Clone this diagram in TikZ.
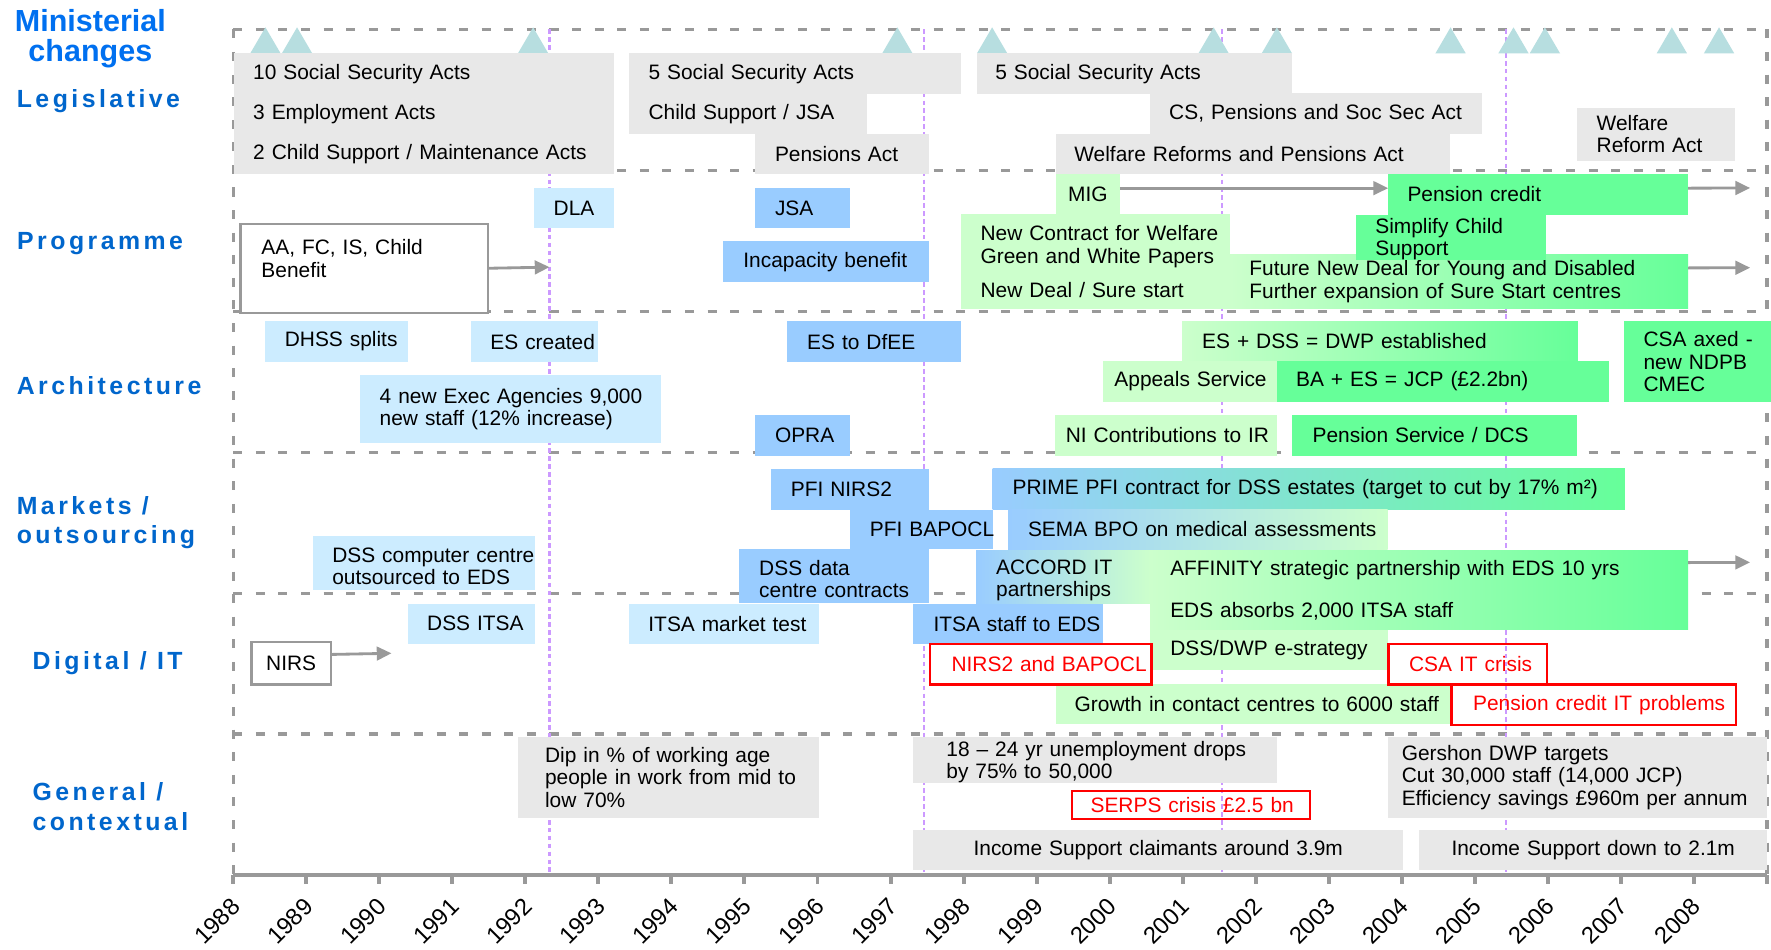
\documentclass[tikz,border=0pt]{standalone}
\usepackage{fontspec}
\setmainfont{Liberation Sans}
\newfontfamily\lanefont{Liberation Sans}[LetterSpace=14]
\usetikzlibrary{arrows.meta}

\definecolor{boxgrey}{RGB}{232,232,232}
\definecolor{lblue}{RGB}{204,236,255}
\definecolor{mblue}{RGB}{153,204,255}
\definecolor{lgreen}{RGB}{204,255,204}
\definecolor{bgreen}{RGB}{102,255,153}
\definecolor{linegray}{RGB}{153,153,153}
\definecolor{elecpurple}{RGB}{204,153,255}
\definecolor{minteal}{RGB}{183,222,224}
\definecolor{laneblue}{RGB}{0,102,204}
\definecolor{titleblue}{RGB}{0,112,240}
\definecolor{alertred}{RGB}{255,0,0}

\tikzset{
    box/.style={anchor=north west, inner sep=0pt, align=left, minimum height=36pt, execute at begin node={\leftskip=#1\rightskip=-40pt plus 1fil}},
    box/.default=17pt,
    cbox/.style={anchor=north west, inner sep=0pt, align=center, minimum height=35.5pt},
    greyfill/.style={fill=boxgrey},
    lbluefill/.style={fill=lblue},
    mbluefill/.style={fill=mblue},
    lgreenfill/.style={fill=lgreen},
    bgreenfill/.style={fill=bgreen},
    fadegreen/.style={left color=lgreen, right color=bgreen},
    bluegreen/.style={left color=mblue, right color=bgreen},
    bluelight/.style={left color=mblue, right color=lgreen},
    legacy/.style={draw=linegray, line width=2pt, fill=white},
    crisis/.style={draw=alertred, line width=2pt, text=alertred},
    lanesep/.style={draw=linegray, line width=3pt, dash pattern=on 8pt off 12pt},
    election/.style={draw=elecpurple, line width=2pt, dash pattern=on 4pt off 3pt},
    axisline/.style={draw=linegray, line width=3.5pt},
    flow/.style={draw=linegray, line width=2.5pt, -{Triangle[length=13pt, width=12pt]}},
    lane/.style={font=\lanefont\bfseries\fontsize{22}{26.3}\selectfont, text=laneblue, inner sep=0pt},
    mintitle/.style={font=\bfseries\fontsize{27}{26}\selectfont, text=titleblue, inner sep=0pt, align=center},
    yearlbl/.style={rotate=45, anchor=east, inner sep=0pt, font=\fontsize{21}{25}\selectfont}
}

\begin{document}
\begin{tikzpicture}[x=1pt, y=-1pt, font=\fontsize{18.5}{20}\selectfont]
    \path[fill=white, use as bounding box] (0,0) rectangle (1568,841);

    % Lanes and elections
    \foreach \y in {26,151,276,400.5,525.3,650}
        \draw[lanesep] (206.5,\y) -- (1564.3,\y);
    \draw[lanesep] (206.5,26) -- (206.5,775);
    \draw[lanesep] (1564.3,26) -- (1564.3,775);
    \foreach \x in {486.5,818.2,1082,1333.5}
        \draw[election] (\x,26) -- (\x,775);
    \foreach \x in {235,263,472,794.5,878.4,1074.5,1130.5,1284.3,1340,1367.8,1480.2,1522}
        \fill[minteal] (\x-13.4,47.2) -- (\x,24.2) -- (\x+13.4,47.2) -- cycle;

    % Legislative
    \node (ssa88) [box, greyfill, text width=336pt] at (207,47) {10 Social Security Acts};
    \node (emp88) [box, greyfill, text width=336pt] at (207,82.5) {3 Employment Acts};
    \node (csm88) [box, greyfill, text width=336pt] at (207,118) {2 Child Support / Maintenance Acts};
    \node (ssa95) [box, greyfill, text width=293.5pt] at (557,47) {5 Social Security Acts};
    \node (csjsa) [box, greyfill, text width=210.5pt] at (557,82.5) {Child Support / JSA};
    \node (pens95) [box=17.5pt, greyfill, text width=154pt] at (668.5,118) {Pensions Act};
    \node (ssa98) [box=16pt, greyfill, text width=279pt] at (865,47) {5 Social Security Acts};
    \node (cspss) [box, greyfill, text width=294pt] at (1018,82.5) {CS, Pensions and Soc Sec Act};
    \node (wrpa) [box=16pt, greyfill, text width=349pt] at (935,118) {Welfare Reforms and Pensions Act};
    \node (wra07) [box=17.5pt, greyfill, text width=140pt, minimum height=47pt] at (1396,95) {Welfare\\Reform Act};

    % Programme
    \node (dla) [box, lbluefill, text width=70pt] at (473,166) {DLA};
    \node (aacb) [box=18.5pt, legacy, text width=219pt, minimum height=79pt] at (212,197) {AA, FC, IS, Child\\Benefit\\[-3pt]\mbox{}};
    \node (jsa) [box=17.5pt, mbluefill, text width=84pt] at (668.5,166) {JSA};
    \node (incap) [box=18pt, mbluefill, text width=182.5pt] at (640,213.5) {Incapacity benefit};
    \node (mig) [box=10.5pt, lgreenfill, text width=56pt] at (935,154) {MIG};
    \node (future) [box, fadegreen, text width=405.3pt, minimum height=48pt] at (1089,225) {Future New Deal for Young and Disabled\\Further expansion of Sure Start centres};
    \node (newcon) [box, lgreenfill, text width=238pt, minimum height=83.5pt] at (851,189.5) {New Contract for Welfare\\Green and White Papers\\[10pt]New Deal / Sure start};
    \node (pencred) [box, bgreenfill, text width=265.3pt] at (1229,154) {Pension credit};
    \node (simcs) [box, bgreenfill, text width=168pt, minimum height=35.4pt, text height=17pt] at (1200.5,189.8) {Simplify Child\\[-1pt]Support};

    % Architecture
    \node (dhss) [box=17.4pt, lbluefill, text width=126.4pt] at (234.6,284.2) {DHSS splits};
    \node (escr) [box, lbluefill, text width=112pt] at (417,284.2) {ES created};
    \node (execag) [box=17.4pt, lbluefill, text width=266.2pt, minimum height=60pt] at (318.6,332) {4 new Exec Agencies 9,000\\new staff (12\% increase)};
    \node (esdfee) [box=17.5pt, mbluefill, text width=153.5pt] at (697,284.2) {ES to DfEE};
    \node (opra) [box=17.5pt, mbluefill, text width=84pt] at (668.5,367.4) {OPRA};
    \node (dwp) [box=17.7pt, fadegreen, text width=350.3pt, minimum height=35.4pt] at (1046.5,284.2) {ES + DSS = DWP established};
    \node (appeals) [box=10pt, lgreenfill, text width=153.8pt] at (976.5,319.6) {Appeals Service};
    \node (jcp) [box, bgreenfill, text width=294pt] at (1130.3,319.6) {BA + ES = JCP (£2.2bn)};
    \node (nicir) [box=9.5pt, lgreenfill, text width=196.3pt] at (934,367.4) {NI Contributions to IR};
    \node (pensvc) [box=18pt, bgreenfill, text width=252pt] at (1144,367.4) {Pension Service / DCS};
    \node (csaaxed) [box, bgreenfill, text width=130pt, minimum height=71.4pt] at (1438,284.2) {CSA axed -\\new NDPB\\CMEC};

    % Markets / outsourcing
    \node (dsscc) [box=16.7pt, lbluefill, text width=196pt, minimum height=47.3pt, text height=19pt] at (277.3,474.5) {DSS computer centre\\outsourced to EDS};
    \node (pfinirs) [box=17.6pt, mbluefill, text width=140.1pt] at (682.4,415.2) {PFI NIRS2};
    \node (pfibap) [box=17.6pt, mbluefill, text width=126.8pt, minimum height=35.3pt] at (752.4,451) {PFI BAPOCL};
    \node (dssdc) [box=17.5pt, mbluefill, text width=168pt, minimum height=47.3pt, text height=19pt] at (654.5,486) {DSS data\\centre contracts};
    \node (prime) [box=17.7pt, bluegreen, text width=559.9pt] at (878.6,414.6) {PRIME PFI contract for DSS estates (target to cut by 17\% m²)};
    \node (sema) [box=17.6pt, bluelight, text width=335.9pt, minimum height=35.4pt] at (892.4,450.6) {SEMA BPO on medical assessments};
    \node (accord) [box=17.8pt, bluelight, text width=154pt, minimum height=47.2pt, text height=19pt] at (864,487) {ACCORD IT\\partnerships};
    \node (affinity) [box=17.9pt, fadegreen, text width=476.3pt, minimum height=70.2pt] at (1018,487) {AFFINITY strategic partnership with EDS 10 yrs\\[17pt]EDS absorbs 2,000 ITSA staff};
    \node (estrat) [box=17.9pt, lgreenfill, text width=210.3pt, minimum height=35.4pt] at (1018,557.8) {DSS/DWP e-strategy};

    % Digital / IT
    \node (dssitsa) [box=16.7pt, lbluefill, text width=112pt, minimum height=35.4pt] at (361.3,534.2) {DSS ITSA};
    \node (nirs) [cbox, legacy, text width=70.4pt, minimum height=37.8pt] at (221.6,567.2) {NIRS};
    \node (itsamt) [box=17.1pt, lbluefill, text width=168pt, minimum height=35.4pt] at (556.8,534.2) {ITSA market test};
    \node (itsaeds) [box=17.9pt, mbluefill, text width=168.1pt, minimum height=35.4pt] at (808.4,534.2) {ITSA staff to EDS};
    \node (growth) [box=16.5pt, lgreenfill, text width=349.5pt, minimum height=35.4pt] at (934.8,605) {Growth in contact centres to 6000 staff};
    \node (nirsbap) [box=19pt, crisis, text width=196pt] at (822.5,569) {NIRS2 and BAPOCL};
    \node (csait) [box=18.3pt, crisis, text width=140.1pt] at (1228.3,569) {CSA IT crisis};
    \node (pcit) [box=19.3pt, crisis, text width=252.3pt] at (1284,605) {Pension credit IT problems};

    % General / contextual
    \node (dip) [box=23.8pt, greyfill, text width=266.2pt, minimum height=71.8pt] at (458.6,652.2) {Dip in \% of working age\\people in work from mid to\\low 70\%};
    \node (unemp) [box=29.3pt, greyfill, text width=322.1pt, minimum height=35.4pt, text height=17pt] at (808.4,652.2) {18 – 24 yr unemployment drops\\by 75\% to 50,000};
    \node (serps) [box=16.8pt, crisis, text width=211pt, minimum height=24.6pt] at (947.8,699.4) {SERPS crisis £2.5 bn};
    \node (isclaim) [cbox, greyfill, text width=433.8pt] at (808.4,734.8) {Income Support claimants around 3.9m};
    \node (gershon) [box=12pt, greyfill, text width=335.4pt, minimum height=71.8pt] at (1228.9,652.2) {Gershon DWP targets\\Cut 30,000 staff (14,000 JCP)\\Efficiency savings £960m per annum};
    \node (isdown) [cbox, greyfill, text width=307.8pt] at (1256.5,734.8) {Income Support down to 2.1m};

    % Time axis
    \draw[axisline] (206.5,775) -- (1564.3,775);
    \foreach \i in {0,...,21}
        \draw[axisline] (206.5+64.66*\i,775) -- ++(0,8);
    \foreach \yr [count=\i from 0] in {1988,...,2008}
        \node (yr\yr) [yearlbl] at (208.8+64.66*\i,799) {\yr};

    % Arrows
    \coordinate (aaend) at (486.5,236.5);
    \coordinate (pcend) at (1549.5,166.4);
    \coordinate (fndend) at (1549.5,237);
    \coordinate (affend) at (1549.5,497.9);
    \coordinate (nirsend) at (346.6,578.4);
    \draw[flow] (aacb.east) -- (aaend);
    \draw[flow] ([yshift=5.6pt]mig.east) -- ([yshift=5.6pt]pencred.west);
    \draw[flow] ([yshift=5.6pt]pencred.east) -- (pcend);
    \draw[flow] ([yshift=12pt]future.east) -- (fndend);
    \draw[flow] ([yshift=24.2pt]affinity.east) -- (affend);
    \draw[flow] ([yshift=7.7pt]nirs.east) -- (nirsend);

    % Lane labels
    \node (minchg) [mintitle, anchor=north] at (80,8.5) {Ministerial\\changes};
    \node (lleg) [lane, anchor=base west] at (14.7,95) {Legislative};
    \node (lprog) [lane, anchor=base west] at (15,221) {Programme};
    \node (larch) [lane, anchor=base west] at (14.7,349.7) {Architecture};
    \node (lmkt) [lane, anchor=north west, align=left] at (14.7,439) {Markets /\\outsourcing};
    \node (ldig) [lane, anchor=base west] at (28.7,592.6) {Digital / IT};
    \node (lgen) [lane, anchor=north west, align=left] at (28.7,693) {General /\\contextual};
\end{tikzpicture}
\end{document}
